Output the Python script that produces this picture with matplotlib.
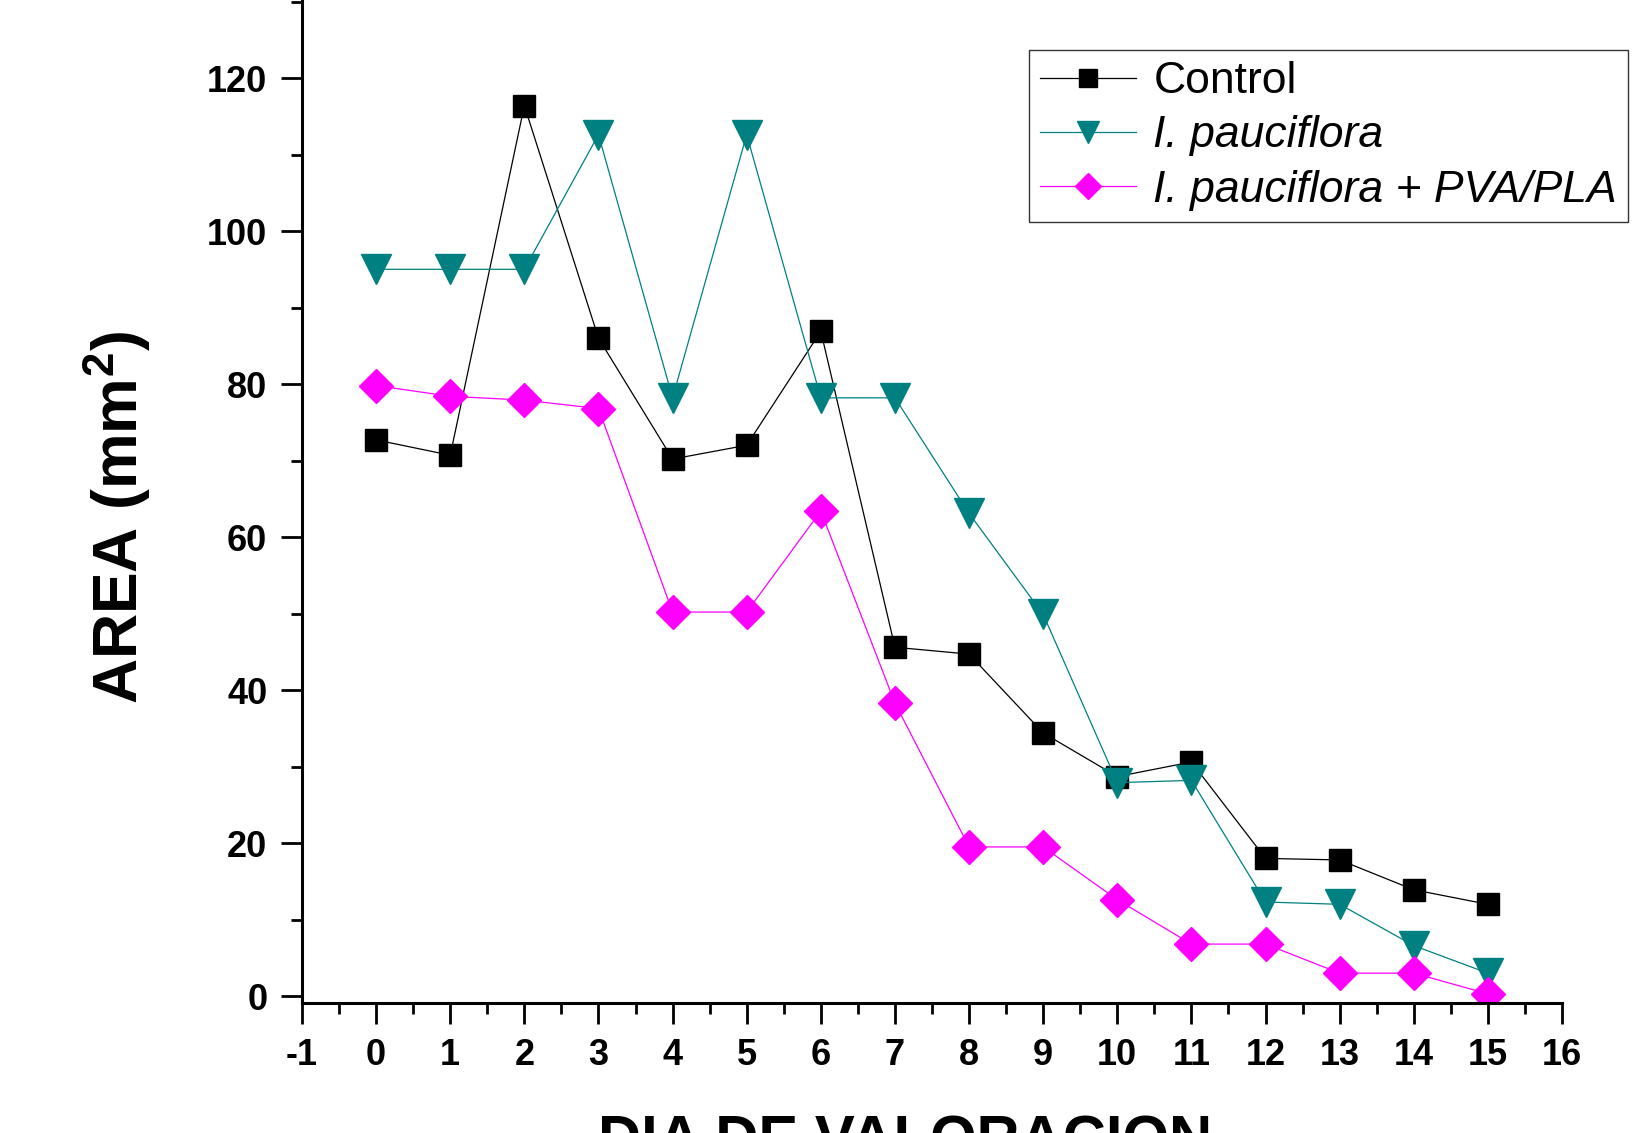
import matplotlib
matplotlib.use("Agg")
import matplotlib.pyplot as plt
from matplotlib.ticker import MultipleLocator

plt.rcParams['font.family'] = ['Liberation Sans', 'DejaVu Sans']
plt.rcParams['mathtext.fontset'] = 'custom'
plt.rcParams['mathtext.bf'] = 'Liberation Sans:bold'
plt.rcParams['mathtext.rm'] = 'Liberation Sans'
plt.rcParams['axes.unicode_minus'] = False

days = list(range(16))
control = [72.7, 70.7, 116.4, 86.0, 70.2, 72.0, 86.9, 45.6, 44.7, 34.4, 28.7, 30.6, 18.0, 17.8, 13.9, 12.0]
pauciflora = [95.0, 95.0, 95.0, 112.6, 78.2, 112.6, 78.2, 78.2, 63.1, 49.9, 27.9, 28.2, 12.3, 12.0, 6.6, 3.0]
pauci_pva = [79.8, 78.4, 77.9, 76.8, 50.2, 50.2, 63.4, 38.3, 19.5, 19.5, 12.6, 6.8, 6.8, 3.0, 3.0, 0.3]
labels = ["Control", "I. pauciflora", "I. pauciflora + PVA/PLA"]

W, H = 1636, 1133
fig = plt.figure(figsize=(W / 100, H / 100), dpi=100)
ax = fig.add_axes([302 / W, 1 - 1003 / H, (1562 - 302) / W, 1003 / H])

ax.plot(days, control, color='black', lw=0.9, marker='s', ms=16.5, mfc='black', mec='black', label=labels[0])
ax.plot(days, pauciflora, color='#008080', lw=0.9, marker='v', ms=21, mfc='#008080', mec='#008080', label=labels[1])
ax.plot(days, pauci_pva, color='#FF00FF', lw=0.9, marker='D', ms=17, mfc='#FF00FF', mec='#FF00FF', label=labels[2])

ax.set_xlim(-1, 16)
ax.set_ylim(-0.9, 130.2)
ax.xaxis.set_major_locator(MultipleLocator(1))
ax.xaxis.set_minor_locator(MultipleLocator(0.5))
ax.yaxis.set_major_locator(MultipleLocator(20))
ax.yaxis.set_minor_locator(MultipleLocator(10))

for s in ['top', 'right']:
    ax.spines[s].set_visible(False)
for s in ['left', 'bottom']:
    ax.spines[s].set_linewidth(2.2)

ax.tick_params(axis='both', which='major', direction='out', length=15, width=2, labelsize=26)
ax.tick_params(axis='y', which='major', pad=10)
ax.tick_params(axis='x', which='major', pad=10)
ax.tick_params(axis='both', which='minor', direction='out', length=8, width=2)
for t in ax.get_xticklabels() + ax.get_yticklabels():
    t.set_fontweight('bold')

ax.set_ylabel("AREA (mm$^{\\mathbf{2}}$)", fontsize=45, fontweight='bold')
ax.yaxis.set_label_coords(-0.118, 0.484)

fig.text(905 / W, 1 - 1114 / H, "DIA DE VALORACION", fontsize=43, fontweight='bold', ha='center', va='top')

leg = ax.legend(loc='upper left', bbox_to_anchor=(1029 / W, 1 - 50 / H), bbox_transform=fig.transFigure,
                fontsize=32, frameon=True, fancybox=False, edgecolor='#333333', framealpha=1,
                handlelength=2.15, handletextpad=0.4, labelspacing=0.3, borderpad=0.25,
                borderaxespad=0, markerscale=0.75)
leg.get_frame().set_linewidth(1.0)
for t in leg.get_texts()[1:]:
    t.set_fontstyle('italic')

fig.savefig("out.png", dpi=100)
